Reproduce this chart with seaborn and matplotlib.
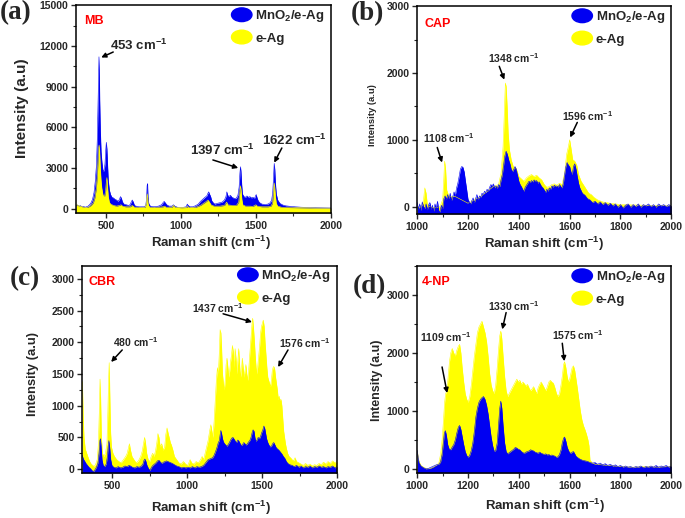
import matplotlib
matplotlib.use("Agg")
import matplotlib.pyplot as plt
import seaborn as sns
import pandas as pd
from matplotlib.patches import Ellipse, Patch
from matplotlib.legend_handler import HandlerPatch
from matplotlib.ticker import MultipleLocator

# ---------------- data ----------------
a_blue = [(300,250),(310,280),(320,200),(330,230),(340,150),(350,180),(360,120),(370,150),(380,200),(390,300),(400,450),(410,700),(420,1200),(428,2000),(436,3200),(442,5200),(447,8000),(451,10500),(453,11200),(455,10200),(458,8000),(462,5800),(467,4200),(473,3400),(480,2800),(487,2800),(493,3300),(498,4300),(502,4900),(506,4400),(510,3300),(515,2100),(522,1400),(530,1050),(540,850),(550,800),(560,700),(570,650),(580,550),(590,700),(596,900),(602,800),(610,500),(620,350),(635,300),(650,250),(660,300),(668,500),(675,650),(682,500),(690,250),(700,200),(720,150),(740,150),(755,150),(765,250),(770,700),(774,1700),(777,1850),(780,900),(785,400),(795,200),(820,150),(850,200),(870,300),(880,450),(888,550),(895,450),(905,300),(920,200),(940,200),(950,300),(958,200),(980,100),(1000,80),(1020,120),(1035,150),(1042,350),(1048,250),(1060,150),(1080,150),(1100,250),(1115,350),(1130,550),(1145,700),(1160,850),(1172,950),(1180,1150),(1185,1250),(1190,1100),(1198,900),(1205,600),(1215,450),(1225,350),(1240,400),(1260,450),(1275,500),(1290,650),(1300,900),(1306,1250),(1312,1000),(1320,900),(1330,1000),(1340,850),(1350,800),(1360,750),(1370,800),(1380,1000),(1388,1600),(1393,2600),(1397,3100),(1400,2800),(1405,1800),(1410,1100),(1420,900),(1430,850),(1440,950),(1450,850),(1460,900),(1470,800),(1480,850),(1490,750),(1497,950),(1502,1050),(1508,800),(1515,600),(1525,450),(1540,350),(1560,320),(1580,350),(1595,450),(1605,650),(1612,1200),(1617,2200),(1622,3350),(1626,2900),(1630,1900),(1636,1100),(1645,650),(1660,400),(1680,280),(1700,220),(1730,180),(1760,150),(1800,120),(1850,100),(1900,80),(1950,70),(2000,60)]
a_yellow = [(300,300),(310,280),(320,220),(330,200),(340,150),(360,100),(380,120),(400,250),(415,450),(425,800),(435,1500),(442,2500),(447,3700),(451,4500),(454,4700),(457,4300),(461,3200),(466,2200),(472,1500),(480,1000),(490,900),(497,1300),(502,2000),(506,2300),(510,1600),(515,900),(522,500),(530,350),(550,250),(570,200),(590,250),(600,300),(610,200),(630,150),(660,150),(675,250),(690,120),(720,100),(760,120),(770,400),(775,1100),(778,900),(782,300),(790,120),(830,100),(880,150),(890,200),(900,120),(940,120),(950,250),(958,130),(1000,80),(1040,100),(1045,200),(1050,100),(1100,120),(1130,250),(1150,400),(1170,550),(1180,650),(1190,500),(1200,300),(1220,200),(1260,200),(1290,250),(1305,500),(1312,300),(1340,250),(1370,250),(1385,500),(1392,1200),(1397,1700),(1401,1400),(1406,700),(1412,300),(1430,200),(1460,200),(1480,180),(1500,300),(1508,200),(1540,150),(1580,150),(1600,200),(1610,400),(1615,900),(1619,1500),(1622,1900),(1626,1600),(1630,900),(1636,400),(1645,200),(1670,120),(1700,100),(1800,80),(1900,60),(2000,50)]

b_blue = [(1000,60),(1005,-40),(1010,40),(1015,-60),(1020,70),(1025,0),(1030,-30),(1035,40),(1040,-50),(1045,30),(1050,60),(1055,-40),(1060,20),(1065,-70),(1070,40),(1075,-20),(1080,80),(1085,-60),(1090,-80),(1095,20),(1100,-30),(1105,120),(1110,160),(1115,110),(1120,180),(1125,120),(1130,200),(1135,90),(1140,150),(1145,220),(1150,170),(1155,280),(1160,350),(1165,450),(1170,560),(1175,600),(1180,590),(1185,520),(1190,380),(1195,250),(1200,110),(1205,70),(1210,40),(1215,90),(1220,130),(1225,60),(1230,120),(1235,180),(1240,100),(1245,160),(1250,140),(1255,200),(1260,180),(1265,230),(1270,210),(1275,260),(1280,230),(1285,290),(1290,330),(1295,310),(1300,340),(1305,280),(1310,310),(1315,270),(1320,330),(1325,300),(1330,400),(1335,480),(1340,620),(1345,760),(1350,830),(1355,780),(1360,700),(1365,640),(1370,560),(1375,520),(1380,560),(1385,600),(1390,560),(1395,470),(1400,380),(1405,330),(1410,300),(1415,260),(1420,230),(1425,290),(1430,320),(1435,350),(1440,380),(1445,360),(1450,390),(1455,370),(1460,400),(1465,380),(1470,390),(1475,350),(1480,370),(1485,330),(1490,300),(1495,280),(1500,250),(1505,210),(1510,260),(1515,230),(1520,280),(1525,260),(1530,310),(1535,290),(1540,320),(1545,300),(1550,310),(1555,290),(1560,330),(1565,300),(1570,280),(1575,350),(1580,480),(1585,600),(1590,660),(1595,620),(1600,600),(1605,520),(1610,480),(1615,600),(1620,640),(1625,560),(1630,450),(1635,350),(1640,280),(1645,240),(1650,200),(1660,170),(1670,120),(1680,100),(1690,60),(1700,80),(1710,40),(1720,70),(1730,30),(1740,60),(1750,20),(1760,50),(1770,10),(1780,40),(1790,-10),(1800,30),(1810,-20),(1820,20),(1830,40),(1840,-10),(1850,30),(1860,0),(1870,40),(1880,-10),(1890,30),(1900,10),(1910,40),(1920,0),(1930,30),(1940,-10),(1950,40),(1960,10),(1970,30),(1980,0),(1990,30),(2000,10)]
b_yellow = [(1000,0),(1010,-20),(1020,20),(1025,100),(1030,280),(1035,200),(1040,30),(1050,0),(1070,-20),(1090,0),(1100,100),(1104,350),(1108,680),(1112,550),(1116,250),(1125,150),(1150,150),(1200,50),(1250,150),(1300,300),(1320,330),(1330,500),(1338,900),(1343,1400),(1347,1850),(1350,1800),(1354,1500),(1358,1100),(1363,850),(1370,700),(1378,600),(1390,570),(1400,450),(1420,380),(1430,430),(1440,460),(1450,480),(1460,450),(1470,470),(1480,430),(1490,400),(1500,330),(1510,290),(1520,300),(1530,330),(1540,340),(1550,320),(1560,350),(1570,330),(1580,500),(1588,780),(1595,900),(1600,1000),(1605,880),(1612,700),(1620,680),(1628,620),(1635,480),(1645,380),(1655,320),(1665,260),(1675,200),(1685,180),(1695,140),(1710,100),(1730,70),(1760,50),(1800,30),(1900,20),(2000,10)]

c_blue = [(300,220),(305,180),(310,150),(318,120),(325,90),(335,60),(345,30),(355,10),(365,-20),(375,-40),(385,-10),(395,30),(405,100),(412,250),(418,450),(422,480),(426,380),(432,150),(440,60),(450,40),(460,80),(468,200),(474,380),(478,450),(483,350),(490,150),(498,60),(510,30),(525,20),(540,40),(555,20),(570,30),(585,50),(600,40),(612,60),(622,50),(635,30),(650,20),(665,40),(680,30),(695,50),(705,80),(712,140),(718,160),(724,130),(732,60),(742,10),(752,-20),(762,30),(772,60),(782,80),(792,100),(802,130),(812,140),(822,110),(832,90),(842,110),(852,120),(862,130),(872,120),(882,110),(892,100),(902,90),(915,70),(930,50),(945,40),(960,20),(975,30),(990,20),(1005,30),(1020,20),(1035,40),(1050,20),(1065,40),(1080,30),(1095,40),(1110,60),(1120,90),(1130,120),(1140,150),(1150,160),(1160,170),(1170,180),(1180,220),(1190,280),(1200,350),(1208,420),(1215,450),(1220,540),(1225,610),(1230,560),(1236,480),(1242,430),(1250,400),(1258,380),(1266,360),(1274,390),(1282,420),(1290,460),(1298,490),(1306,500),(1314,470),(1322,440),(1330,420),(1338,460),(1346,440),(1354,400),(1362,370),(1370,390),(1378,420),(1386,400),(1394,380),(1402,400),(1410,430),(1418,450),(1426,500),(1434,580),(1440,620),(1446,600),(1452,500),(1458,440),(1466,460),(1474,500),(1482,480),(1490,520),(1498,580),(1505,620),(1512,680),(1518,640),(1524,560),(1530,480),(1538,420),(1546,380),(1554,350),(1562,360),(1570,400),(1578,420),(1586,380),(1594,340),(1602,320),(1612,300),(1622,270),(1632,240),(1642,200),(1652,170),(1662,120),(1672,90),(1685,70),(1700,60),(1715,40),(1730,60),(1745,30),(1760,50),(1775,20),(1790,40),(1805,30),(1820,50),(1835,20),(1850,40),(1865,30),(1880,50),(1895,30),(1910,40),(1925,20),(1940,40),(1955,30),(1970,50),(1985,20),(2000,40)]
c_yellow = [(300,1380),(303,1200),(307,800),(312,500),(320,320),(330,250),(340,180),(350,120),(360,80),(370,60),(380,40),(390,80),(400,150),(408,400),(414,900),(419,1420),(423,1100),(428,500),(435,250),(445,200),(455,250),(465,400),(471,900),(476,1400),(480,1680),(484,1200),(489,600),(495,350),(505,250),(515,200),(530,150),(545,120),(560,100),(575,150),(590,200),(600,250),(608,330),(615,400),(622,300),(632,200),(645,150),(660,100),(675,130),(690,200),(700,280),(710,420),(716,500),(722,420),(730,250),(740,150),(750,120),(760,200),(770,250),(780,200),(790,300),(798,420),(805,560),(812,500),(820,350),(830,400),(840,300),(850,350),(858,550),(866,650),(872,580),(880,500),(888,420),(895,380),(905,300),(915,200),(930,150),(945,100),(960,80),(975,120),(990,80),(1005,60),(1020,150),(1030,100),(1045,80),(1060,120),(1075,100),(1090,150),(1100,200),(1110,150),(1120,250),(1130,350),(1140,450),(1150,600),(1158,700),(1165,600),(1172,500),(1180,750),(1188,1100),(1195,1400),(1202,1600),(1208,1500),(1214,1800),(1220,2200),(1225,2150),(1230,1900),(1236,1500),(1242,1350),(1248,1250),(1254,1400),(1260,1650),(1266,1750),(1272,1600),(1278,1450),(1284,1550),(1290,1700),(1296,1800),(1302,1950),(1308,1850),(1314,1600),(1320,1900),(1326,1750),(1332,1500),(1338,1700),(1344,1900),(1350,1650),(1356,1450),(1362,1550),(1368,1750),(1374,1600),(1380,1450),(1386,1550),(1392,1650),(1398,1500),(1404,1400),(1410,1550),(1416,1750),(1422,1950),(1428,2150),(1433,2300),(1437,2380),(1442,2250),(1448,2050),(1454,1800),(1460,1600),(1466,1500),(1472,1650),(1478,1800),(1484,1950),(1490,2150),(1496,2250),(1502,2300),(1508,2350),(1514,2250),(1520,2000),(1526,1800),(1532,1600),(1538,1450),(1544,1400),(1550,1350),(1556,1300),(1562,1400),(1568,1550),(1573,1600),(1578,1620),(1584,1580),(1590,1450),(1596,1350),(1602,1250),(1608,1100),(1614,1150),(1620,1080),(1626,1100),(1632,1000),(1638,800),(1644,600),(1650,500),(1656,400),(1662,330),(1670,250),(1680,200),(1690,180),(1700,150),(1710,130),(1720,180),(1730,120),(1745,100),(1760,80),(1775,60),(1790,90),(1805,60),(1820,80),(1835,50),(1850,70),(1865,60),(1880,90),(1895,70),(1910,110),(1925,80),(1940,120),(1955,90),(1970,130),(1985,100),(2000,120)]

d_blue = [(1000,320),(1004,180),(1008,100),(1015,50),(1025,20),(1035,0),(1045,10),(1055,30),(1065,50),(1075,70),(1085,80),(1092,120),(1098,250),(1103,450),(1107,620),(1111,660),(1115,580),(1120,420),(1126,340),(1132,330),(1138,380),(1144,420),(1150,500),(1156,620),(1162,720),(1167,750),(1172,680),(1177,560),(1183,420),(1189,300),(1195,230),(1201,200),(1207,240),(1213,320),(1219,450),(1225,650),(1231,900),(1237,1050),(1243,1150),(1249,1200),(1255,1230),(1261,1250),(1267,1200),(1273,1100),(1279,950),(1285,750),(1291,550),(1297,400),(1303,300),(1309,320),(1315,450),(1320,750),(1325,1050),(1329,1170),(1333,1050),(1338,750),(1344,450),(1350,300),(1356,260),(1362,280),(1368,300),(1374,320),(1380,340),(1386,370),(1392,360),(1398,340),(1404,330),(1410,300),(1416,280),(1422,270),(1428,290),(1434,300),(1440,310),(1446,330),(1452,320),(1458,310),(1464,290),(1470,280),(1476,270),(1482,290),(1488,270),(1494,260),(1500,250),(1506,260),(1512,240),(1518,250),(1524,230),(1530,240),(1536,230),(1542,220),(1548,200),(1554,210),(1560,250),(1566,330),(1571,450),(1576,530),(1580,550),(1585,480),(1590,380),(1595,320),(1600,280),(1605,270),(1610,290),(1615,300),(1620,260),(1625,220),(1630,200),(1640,170),(1650,150),(1660,140),(1670,130),(1680,110),(1690,100),(1700,110),(1710,80),(1720,100),(1730,70),(1740,90),(1750,60),(1760,80),(1770,50),(1780,70),(1790,40),(1800,60),(1810,30),(1820,50),(1830,30),(1840,40),(1850,20),(1860,40),(1870,30),(1880,50),(1890,20),(1900,40),(1910,30),(1920,50),(1930,30),(1940,60),(1950,30),(1960,50),(1970,40),(1980,60),(1990,30),(2000,50)]
d_yellow = [(1000,320),(1004,200),(1008,120),(1015,60),(1025,30),(1035,10),(1045,0),(1055,10),(1065,30),(1075,60),(1085,100),(1092,250),(1098,500),(1103,800),(1108,1150),(1112,1300),(1117,1350),(1122,1600),(1127,1850),(1132,2000),(1138,2080),(1144,2000),(1150,1950),(1156,2050),(1162,2120),(1167,2150),(1172,2000),(1177,1750),(1183,1500),(1189,1300),(1195,1200),(1201,1150),(1207,1250),(1213,1450),(1219,1700),(1225,1950),(1231,2150),(1237,2350),(1243,2450),(1249,2500),(1255,2550),(1261,2450),(1267,2350),(1273,2200),(1279,1950),(1285,1650),(1291,1450),(1297,1350),(1303,1300),(1309,1450),(1315,1750),(1320,2050),(1325,2300),(1329,2380),(1333,2250),(1338,1950),(1344,1600),(1350,1350),(1356,1250),(1362,1300),(1368,1350),(1374,1400),(1380,1450),(1386,1500),(1392,1550),(1398,1500),(1404,1530),(1410,1460),(1416,1500),(1422,1470),(1428,1430),(1434,1460),(1440,1400),(1446,1350),(1452,1380),(1458,1420),(1464,1360),(1470,1300),(1476,1400),(1482,1460),(1488,1500),(1494,1450),(1500,1400),(1506,1350),(1512,1420),(1518,1500),(1524,1530),(1530,1500),(1536,1480),(1542,1400),(1548,1300),(1554,1250),(1560,1300),(1566,1450),(1571,1600),(1576,1800),(1580,1850),(1585,1750),(1590,1600),(1595,1500),(1600,1550),(1605,1650),(1610,1750),(1615,1780),(1620,1700),(1625,1550),(1630,1400),(1636,1200),(1642,1000),(1648,850),(1654,750),(1660,680),(1666,600),(1672,500),(1676,400),(1680,150),(1690,100),(1700,80),(1750,60),(1800,40),(1850,30),(1900,40),(1950,30),(2000,40)]

series_labels = ["MnO$_2$/e-Ag", "e-Ag"]
panel_letters = ["(a)", "(b)", "(c)", "(d)"]
analytes = ["MB", "CAP", "CBR", "4-NP"]
peak_labels = {
    "a": ["453 cm$^{-1}$", "1397 cm$^{-1}$", "1622 cm$^{-1}$"],
    "b": ["1108 cm$^{-1}$", "1348 cm$^{-1}$", "1596 cm$^{-1}$"],
    "c": ["480 cm$^{-1}$", "1437 cm$^{-1}$", "1576 cm$^{-1}$"],
    "d": ["1109 cm$^{-1}$", "1330 cm$^{-1}$", "1575 cm$^{-1}$"],
}

# ---------------- style ----------------
BLUE = "#0000f2"
YELLOW = "#ffff00"
sns.set_style("ticks")
plt.rcParams["font.family"] = ["Liberation Sans", "DejaVu Sans"]
plt.rcParams["font.weight"] = "bold"
plt.rcParams["mathtext.fontset"] = "custom"
plt.rcParams["mathtext.rm"] = "Liberation Sans:bold"
plt.rcParams["mathtext.it"] = "Liberation Sans:bold"
plt.rcParams["mathtext.bf"] = "Liberation Sans:bold"
plt.rcParams["mathtext.default"] = "rm"
plt.rcParams["axes.linewidth"] = 1.1

fig = plt.figure(figsize=(6.85, 5.18), dpi=100)

def to_df(pairs):
    return pd.DataFrame(pairs, columns=["shift", "intensity"])

def ellipse_handle(legend, orig_handle, xdescent, ydescent, width, height, fontsize):
    return Ellipse(xy=(0.5 * width - xdescent, 0.5 * height - ydescent),
                   width=width, height=height * 1.25)

def setup(rect, xlim, ylim, xmaj, xmin, ymaj, ymin, blue, yellow, yellow_top,
          letter, letter_pos, analyte, an_pos, ylab_fs, ylab_pos, xlab_pos,
          ann, ann_fs, leg_anchor):
    ax = fig.add_axes(rect)
    ax.set_xlim(*xlim)
    ax.set_ylim(*ylim)
    dfb, dfy = to_df(blue), to_df(yellow)
    order = [(dfb, BLUE), (dfy, YELLOW)] if yellow_top else [(dfy, YELLOW), (dfb, BLUE)]
    for df, col in order:
        ax.fill_between(df["shift"], df["intensity"], ylim[0], color=col, lw=0, zorder=2)
        sns.lineplot(data=df, x="shift", y="intensity", ax=ax, color=col, lw=0.4,
                     estimator=None, sort=False, zorder=2.1)
    ax.xaxis.set_major_locator(MultipleLocator(xmaj))
    ax.xaxis.set_minor_locator(MultipleLocator(xmin))
    ax.yaxis.set_major_locator(MultipleLocator(ymaj))
    ax.yaxis.set_minor_locator(MultipleLocator(ymin))
    ax.tick_params(which="major", direction="out", length=3.5, width=1.0, labelsize=7.5, pad=2)
    ax.tick_params(which="minor", direction="out", length=2, width=0.8)
    for lab in ax.get_xticklabels() + ax.get_yticklabels():
        lab.set_fontweight("bold")
    for s in ax.spines.values():
        s.set_visible(True)
        s.set_color("black")
    ax.set_xlabel("Raman shift (cm$^{-1}$)", fontsize=9.5, fontweight="bold")
    ax.set_ylabel("Intensity (a.u)", fontsize=ylab_fs, fontweight="bold")
    ax.xaxis.set_label_coords(*xlab_pos)
    ax.xaxis.label.set_va("center")
    ax.yaxis.set_label_coords(*ylab_pos)
    ax.yaxis.label.set_va("center")
    ax.text(an_pos[0], an_pos[1], analyte, transform=ax.transAxes, color="red",
            fontsize=9, fontweight="bold", ha="left", va="top")
    fig.text(letter_pos[0], letter_pos[1], letter, fontsize=19.5, fontweight="bold",
             family=["Liberation Serif", "DejaVu Serif"], ha="left", va="center")
    for label, txt_xy, tail, tip in ann:
        ax.text(txt_xy[0], txt_xy[1], label, fontsize=ann_fs, fontweight="bold",
                ha="left", va="center", zorder=5)
        ax.annotate("", xy=tip, xytext=tail,
                    arrowprops=dict(arrowstyle="-|>", color="black", lw=1.1,
                                    mutation_scale=7, shrinkA=0, shrinkB=0), zorder=5)
    handles = [Patch(color=BLUE, label=series_labels[0]),
               Patch(color=YELLOW, label=series_labels[1])]
    ax.legend(handles=handles, loc="upper right", bbox_to_anchor=leg_anchor,
              frameon=False, prop={"weight": "bold", "size": 9.5},
              handlelength=1.55, handleheight=0.9, handletextpad=0.25,
              labelspacing=0.55, borderpad=0, borderaxespad=0,
              handler_map={Patch: HandlerPatch(patch_func=ellipse_handle)})
    return ax

k = "a"
setup([0.111, 0.589, 0.372, 0.401], (300, 2000), (-300, 15000), 500, 250, 3000, 1500,
      a_blue, a_yellow, True, panel_letters[0], (0.0, 0.975), analytes[0], (0.03, 0.955),
      11, (-0.212, 0.505), (0.53, -0.144),
      [(peak_labels[k][0], (527, 12050), (548, 11550), (468, 11150)),
       (peak_labels[k][1], (1060, 4330), (1213, 3600), (1382, 3010)),
       (peak_labels[k][2], (1540, 5070), (1673, 4480), (1622, 3400))],
      9.5, (0.975, 0.985))

k = "b"
setup([0.609, 0.587, 0.371, 0.401], (1000, 2000), (-110, 3000), 200, 100, 1000, 500,
      b_blue, b_yellow, False, panel_letters[1], (0.512, 0.974), analytes[1], (0.03, 0.945),
      6.8, (-0.177, 0.476), (0.5, -0.144),
      [(peak_labels[k][0], (1024, 1020), (1079, 885), (1098, 660)),
       (peak_labels[k][1], (1280, 2220), (1323, 2100), (1343, 1900)),
       (peak_labels[k][2], (1571, 1350), (1630, 1260), (1602, 1035))],
      7.5, (0.975, 0.985))

k = "c"
setup([0.120, 0.087, 0.372, 0.399], (300, 2000), (-60, 3200), 500, 250, 500, 250,
      c_blue, c_yellow, False, panel_letters[2], (0.0146, 0.463), analytes[2], (0.025, 0.955),
      9.4, (-0.192, 0.478), (0.506, -0.169),
      [(peak_labels[k][0], (507, 2006), (567, 1880), (493, 1690)),
       (peak_labels[k][1], (1033, 2540), (1240, 2450), (1433, 2320)),
       (peak_labels[k][2], (1613, 1990), (1673, 1880), (1607, 1610))],
      7.5, (0.975, 0.99))

k = "d"
setup([0.609, 0.087, 0.371, 0.399], (1000, 2000), (-70, 3500), 200, 100, 1000, 500,
      d_blue, d_yellow, False, panel_letters[3], (0.515, 0.446), analytes[3], (0.02, 0.955),
      9.0, (-0.157, 0.45), (0.502, -0.16),
      [(peak_labels[k][0], (1012, 2276), (1098, 1760), (1118, 1310)),
       (peak_labels[k][1], (1280, 2810), (1350, 2700), (1335, 2410)),
       (peak_labels[k][2], (1531, 2310), (1571, 2170), (1579, 1860))],
      7.5, (0.975, 0.985))

fig.savefig("out.png", dpi=100)
